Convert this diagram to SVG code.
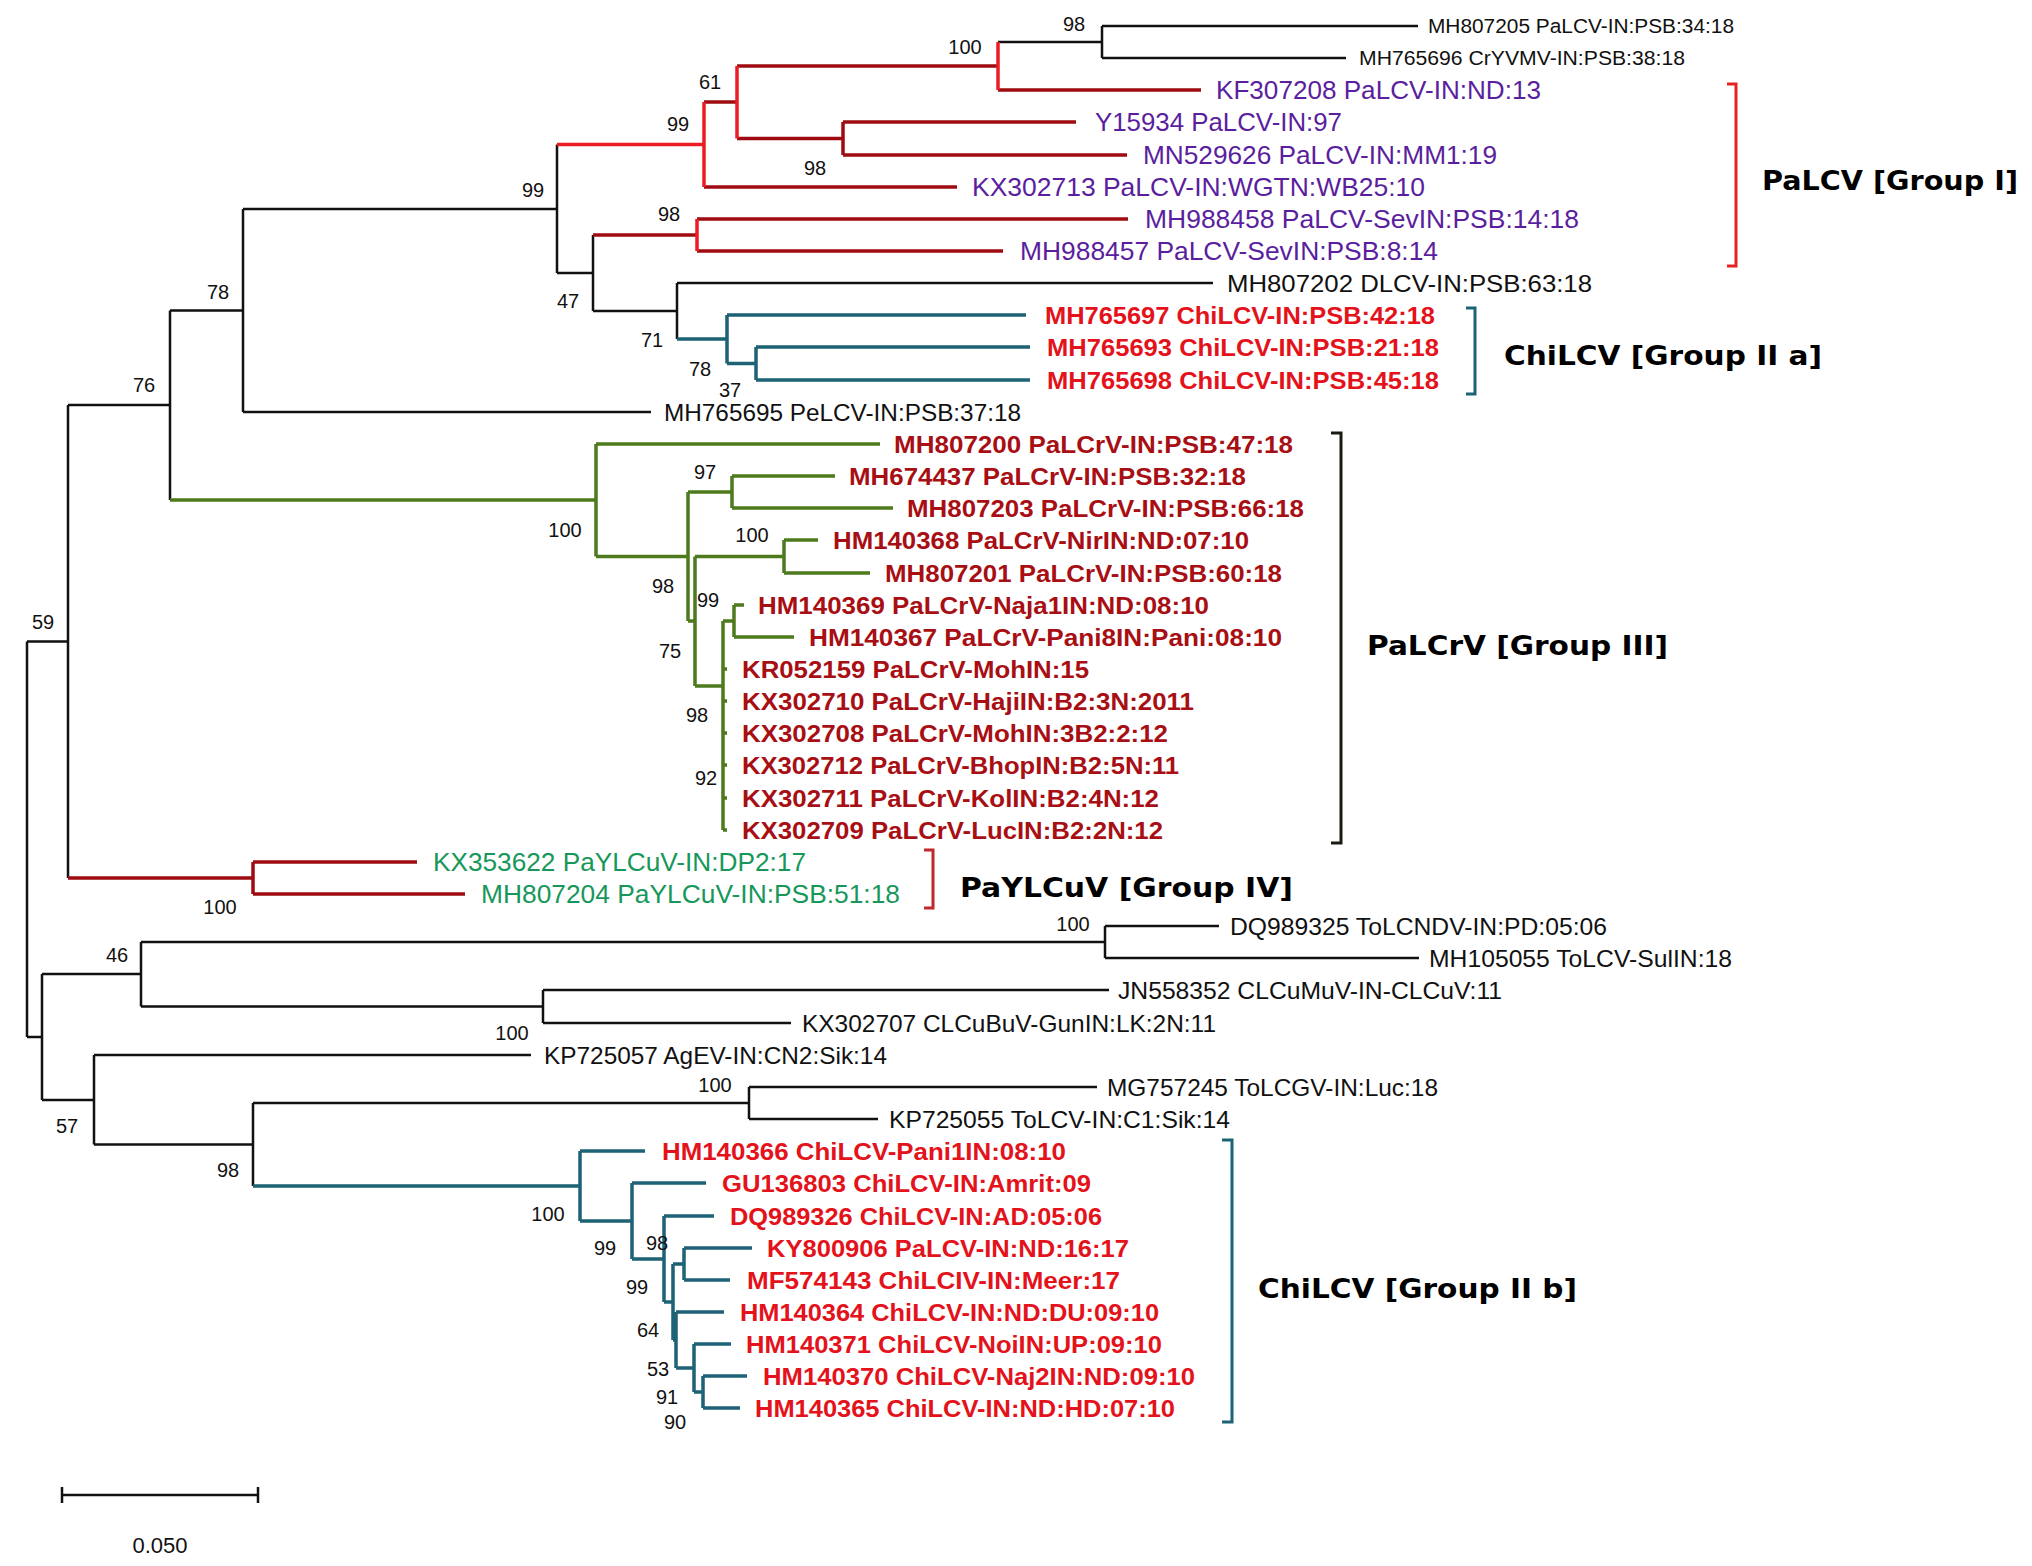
<svg xmlns="http://www.w3.org/2000/svg" width="2032" height="1566" viewBox="0 0 2032 1566">
<style>
.k{fill:none;stroke:#111;stroke-width:2.5}
.r{fill:none;stroke:#9e0b10;stroke-width:3.5}
.rb{fill:none;stroke:#ec1c24;stroke-width:3.5}
.t{fill:none;stroke:#1d6275;stroke-width:3.5}
.g{fill:none;stroke:#4e7a1e;stroke-width:3.5}
text{font-family:"Liberation Sans",Arial,sans-serif}
.bs{font-size:20px;fill:#111;text-anchor:middle}
.tk{font-size:24px;fill:#111}
.ts{font-size:20.5px;fill:#111}
.tp{font-size:25px;fill:#5a1e9e}
.tr{font-size:24px;fill:#e3121b;font-weight:bold}
.td{font-size:24px;fill:#a80f14;font-weight:bold}
.tg{font-size:25px;fill:#17985a}
.grp{font-family:"DejaVu Sans",Verdana,sans-serif;font-size:27px;font-weight:bold;fill:#000}
.bk{fill:none;stroke-width:3}
</style>
<rect width="2032" height="1566" fill="#fff"/>
<g id="branches">
<path class="k" d="M27,641.5V1037M27,641.5H68M27,1037H42M68,405V878M68,405H170M170,310.5V500M170,310.5H243M243,209V412M243,209H557M243,412H651M557,144.5V273M557,273H593M593,235V311M593,311H677M677,283V339M677,283H1213M998,42H1102M1102,26V58M1102,26H1418M1102,58H1346"/>
<path class="k" d="M42,974V1100M42,974H141M141,942V1006.5M141,942H1105M1105,926V958M1105,926H1219M1105,958H1419M141,1006.5H543M543,990V1023M543,990H1109M543,1023H791M42,1100H94M94,1055V1144.5M94,1055H531M94,1144.5H253M253,1103V1186M253,1103H749M749,1087V1119M749,1087H1097M749,1119H878"/>
<path class="r" d="M704,102H737M704,187H957M737,66H998M998,90H1201M737,138.5H843M843,122V155M843,122H1076M843,155H1127M593,235H697M697,219H1128M697,251H1003"/>
<path class="rb" d="M557,144.5H704M704,102V187M737,66V138.5M998,42V90M697,219V251"/>
<path class="r" d="M68,878H253M253,862V894M253,862H417M253,894H465"/>
<path class="t" d="M677,339H727M727,315V363.5M727,315H1026M727,363.5H756M756,347V380M756,347H1030M756,380H1030"/>
<path class="t" d="M253,1186H580M580,1151V1221M580,1151H645M580,1221H632M632,1183V1259M632,1183H706M632,1259H664M664,1216V1302M664,1216H714M664,1302H673M673,1264V1340M673,1264H684M684,1248V1280M684,1248H752M684,1280H730M673,1340H676M676,1312V1368M676,1312H724M676,1368H694M694,1344V1392M694,1344H731M694,1392H703M703,1376V1408M703,1376H747M703,1408H740"/>
<path class="g" d="M170,500H596M596,444V556.5M596,444H880M596,556.5H688M688,492V621M688,492H732M732,476V508M732,476H835M732,508H893M688,621H695M695,556.5V686M695,556.5H784M784,540V573M784,540H818M784,573H870M695,686H723M723,621V830M723,621H734M734,605V637M734,605H744M734,637H794M723,669H727M723,701H727M723,733H727M723,765H727M723,798H727M723,830H727"/>
</g>
<g id="brackets">
<path class="bk" stroke="#e52222" d="M1727,84H1736V266H1727"/>
<path class="bk" stroke="#1d6275" d="M1466,308H1475V394H1466"/>
<path class="bk" stroke="#1a1a12" d="M1331,433H1341V843H1331"/>
<path class="bk" stroke="#c0282c" d="M924,850H933V908H924"/>
<path class="bk" stroke="#1d6275" d="M1222,1140H1232V1422H1222"/>
</g>
<g id="bootstrap">
<text class="bs" x="1074" y="31">98</text>
<text class="bs" x="965" y="54">100</text>
<text class="bs" x="710" y="89">61</text>
<text class="bs" x="678" y="131">99</text>
<text class="bs" x="815" y="175">98</text>
<text class="bs" x="533" y="197">99</text>
<text class="bs" x="669" y="221">98</text>
<text class="bs" x="218" y="299">78</text>
<text class="bs" x="568" y="308">47</text>
<text class="bs" x="652" y="347">71</text>
<text class="bs" x="700" y="376">78</text>
<text class="bs" x="730" y="397" font-size="19">37</text>
<text class="bs" x="144" y="392">76</text>
<text class="bs" x="565" y="537">100</text>
<text class="bs" x="705" y="479">97</text>
<text class="bs" x="752" y="542">100</text>
<text class="bs" x="663" y="593">98</text>
<text class="bs" x="708" y="607">99</text>
<text class="bs" x="670" y="658">75</text>
<text class="bs" x="697" y="722">98</text>
<text class="bs" x="706" y="785">92</text>
<text class="bs" x="43" y="629">59</text>
<text class="bs" x="220" y="914">100</text>
<text class="bs" x="117" y="962">46</text>
<text class="bs" x="1073" y="931">100</text>
<text class="bs" x="512" y="1040">100</text>
<text class="bs" x="67" y="1133">57</text>
<text class="bs" x="715" y="1092">100</text>
<text class="bs" x="228" y="1177">98</text>
<text class="bs" x="548" y="1221">100</text>
<text class="bs" x="605" y="1255">99</text>
<text class="bs" x="657" y="1250">98</text>
<text class="bs" x="637" y="1294">99</text>
<text class="bs" x="648" y="1337">64</text>
<text class="bs" x="658" y="1376">53</text>
<text class="bs" x="667" y="1404">91</text>
<text class="bs" x="675" y="1429">90</text>
</g>
<g id="tip-MH807205"><text class="ts" x="1428" y="33" textLength="306" lengthAdjust="spacingAndGlyphs">MH807205 PaLCV-IN:PSB:34:18</text></g>
<g id="tip-MH765696"><text class="ts" x="1359" y="65" textLength="326" lengthAdjust="spacingAndGlyphs">MH765696 CrYVMV-IN:PSB:38:18</text></g>
<g id="tip-KF307208"><text class="tp" x="1216" y="99" textLength="325" lengthAdjust="spacingAndGlyphs">KF307208 PaLCV-IN:ND:13</text></g>
<g id="tip-Y15934"><text class="tp" x="1095" y="131" textLength="247" lengthAdjust="spacingAndGlyphs">Y15934 PaLCV-IN:97</text></g>
<g id="tip-MN529626"><text class="tp" x="1143" y="164" textLength="354" lengthAdjust="spacingAndGlyphs">MN529626 PaLCV-IN:MM1:19</text></g>
<g id="tip-KX302713"><text class="tp" x="972" y="196" textLength="453" lengthAdjust="spacingAndGlyphs">KX302713 PaLCV-IN:WGTN:WB25:10</text></g>
<g id="tip-MH988458"><text class="tp" x="1145" y="228" textLength="434" lengthAdjust="spacingAndGlyphs">MH988458 PaLCV-SevIN:PSB:14:18</text></g>
<g id="tip-MH988457"><text class="tp" x="1020" y="260" textLength="418" lengthAdjust="spacingAndGlyphs">MH988457 PaLCV-SevIN:PSB:8:14</text></g>
<g id="tip-MH807202"><text class="tk" x="1227" y="292" textLength="365" lengthAdjust="spacingAndGlyphs">MH807202 DLCV-IN:PSB:63:18</text></g>
<g id="tip-MH765697"><text class="tr" x="1045" y="324" textLength="390" lengthAdjust="spacingAndGlyphs">MH765697 ChiLCV-IN:PSB:42:18</text></g>
<g id="tip-MH765693"><text class="tr" x="1047" y="356" textLength="392" lengthAdjust="spacingAndGlyphs">MH765693 ChiLCV-IN:PSB:21:18</text></g>
<g id="tip-MH765698"><text class="tr" x="1047" y="389" textLength="392" lengthAdjust="spacingAndGlyphs">MH765698 ChiLCV-IN:PSB:45:18</text></g>
<g id="tip-MH765695"><text class="tk" x="664" y="421" textLength="357" lengthAdjust="spacingAndGlyphs">MH765695 PeLCV-IN:PSB:37:18</text></g>
<g id="tip-MH807200"><text class="td" x="894" y="453" textLength="399" lengthAdjust="spacingAndGlyphs">MH807200 PaLCrV-IN:PSB:47:18</text></g>
<g id="tip-MH674437"><text class="td" x="849" y="485" textLength="397" lengthAdjust="spacingAndGlyphs">MH674437 PaLCrV-IN:PSB:32:18</text></g>
<g id="tip-MH807203"><text class="td" x="907" y="517" textLength="397" lengthAdjust="spacingAndGlyphs">MH807203 PaLCrV-IN:PSB:66:18</text></g>
<g id="tip-HM140368"><text class="td" x="833" y="549" textLength="416" lengthAdjust="spacingAndGlyphs">HM140368 PaLCrV-NirIN:ND:07:10</text></g>
<g id="tip-MH807201"><text class="td" x="885" y="582" textLength="397" lengthAdjust="spacingAndGlyphs">MH807201 PaLCrV-IN:PSB:60:18</text></g>
<g id="tip-HM140369"><text class="td" x="758" y="614" textLength="451" lengthAdjust="spacingAndGlyphs">HM140369 PaLCrV-Naja1IN:ND:08:10</text></g>
<g id="tip-HM140367"><text class="td" x="809" y="646" textLength="473" lengthAdjust="spacingAndGlyphs">HM140367 PaLCrV-Pani8IN:Pani:08:10</text></g>
<g id="tip-KR052159"><text class="td" x="742" y="678" textLength="347" lengthAdjust="spacingAndGlyphs">KR052159 PaLCrV-MohIN:15</text></g>
<g id="tip-KX302710"><text class="td" x="742" y="710" textLength="452" lengthAdjust="spacingAndGlyphs">KX302710 PaLCrV-HajiIN:B2:3N:2011</text></g>
<g id="tip-KX302708"><text class="td" x="742" y="742" textLength="426" lengthAdjust="spacingAndGlyphs">KX302708 PaLCrV-MohIN:3B2:2:12</text></g>
<g id="tip-KX302712"><text class="td" x="742" y="774" textLength="437" lengthAdjust="spacingAndGlyphs">KX302712 PaLCrV-BhopIN:B2:5N:11</text></g>
<g id="tip-KX302711"><text class="td" x="742" y="807" textLength="417" lengthAdjust="spacingAndGlyphs">KX302711 PaLCrV-KolIN:B2:4N:12</text></g>
<g id="tip-KX302709"><text class="td" x="742" y="839" textLength="421" lengthAdjust="spacingAndGlyphs">KX302709 PaLCrV-LucIN:B2:2N:12</text></g>
<g id="tip-KX353622"><text class="tg" x="433" y="871" textLength="373" lengthAdjust="spacingAndGlyphs">KX353622 PaYLCuV-IN:DP2:17</text></g>
<g id="tip-MH807204"><text class="tg" x="481" y="903" textLength="419" lengthAdjust="spacingAndGlyphs">MH807204 PaYLCuV-IN:PSB:51:18</text></g>
<g id="tip-DQ989325"><text class="tk" x="1230" y="935" textLength="377" lengthAdjust="spacingAndGlyphs">DQ989325 ToLCNDV-IN:PD:05:06</text></g>
<g id="tip-MH105055"><text class="tk" x="1429" y="967" textLength="303" lengthAdjust="spacingAndGlyphs">MH105055 ToLCV-SulIN:18</text></g>
<g id="tip-JN558352"><text class="tk" x="1118" y="999" textLength="384" lengthAdjust="spacingAndGlyphs">JN558352 CLCuMuV-IN-CLCuV:11</text></g>
<g id="tip-KX302707"><text class="tk" x="802" y="1032" textLength="414" lengthAdjust="spacingAndGlyphs">KX302707 CLCuBuV-GunIN:LK:2N:11</text></g>
<g id="tip-KP725057"><text class="tk" x="544" y="1064" textLength="343" lengthAdjust="spacingAndGlyphs">KP725057 AgEV-IN:CN2:Sik:14</text></g>
<g id="tip-MG757245"><text class="tk" x="1107" y="1096" textLength="331" lengthAdjust="spacingAndGlyphs">MG757245 ToLCGV-IN:Luc:18</text></g>
<g id="tip-KP725055"><text class="tk" x="889" y="1128" textLength="341" lengthAdjust="spacingAndGlyphs">KP725055 ToLCV-IN:C1:Sik:14</text></g>
<g id="tip-HM140366"><text class="tr" x="662" y="1160" textLength="404" lengthAdjust="spacingAndGlyphs">HM140366 ChiLCV-Pani1IN:08:10</text></g>
<g id="tip-GU136803"><text class="tr" x="722" y="1192" textLength="369" lengthAdjust="spacingAndGlyphs">GU136803 ChiLCV-IN:Amrit:09</text></g>
<g id="tip-DQ989326"><text class="tr" x="730" y="1225" textLength="372" lengthAdjust="spacingAndGlyphs">DQ989326 ChiLCV-IN:AD:05:06</text></g>
<g id="tip-KY800906"><text class="tr" x="767" y="1257" textLength="362" lengthAdjust="spacingAndGlyphs">KY800906 PaLCV-IN:ND:16:17</text></g>
<g id="tip-MF574143"><text class="tr" x="747" y="1289" textLength="373" lengthAdjust="spacingAndGlyphs">MF574143 ChiLCIV-IN:Meer:17</text></g>
<g id="tip-HM140364"><text class="tr" x="740" y="1321" textLength="419" lengthAdjust="spacingAndGlyphs">HM140364 ChiLCV-IN:ND:DU:09:10</text></g>
<g id="tip-HM140371"><text class="tr" x="746" y="1353" textLength="416" lengthAdjust="spacingAndGlyphs">HM140371 ChiLCV-NoiIN:UP:09:10</text></g>
<g id="tip-HM140370"><text class="tr" x="763" y="1385" textLength="432" lengthAdjust="spacingAndGlyphs">HM140370 ChiLCV-Naj2IN:ND:09:10</text></g>
<g id="tip-HM140365"><text class="tr" x="755" y="1417" textLength="420" lengthAdjust="spacingAndGlyphs">HM140365 ChiLCV-IN:ND:HD:07:10</text></g>
<g id="group-I"><text class="grp" x="1762" y="190" textLength="256" lengthAdjust="spacingAndGlyphs">PaLCV [Group I]</text></g>
<g id="group-IIa"><text class="grp" x="1504" y="365" textLength="318" lengthAdjust="spacingAndGlyphs">ChiLCV [Group II a]</text></g>
<g id="group-III"><text class="grp" x="1367" y="655" textLength="301" lengthAdjust="spacingAndGlyphs">PaLCrV [Group III]</text></g>
<g id="group-IV"><text class="grp" x="960" y="897" textLength="333" lengthAdjust="spacingAndGlyphs">PaYLCuV [Group IV]</text></g>
<g id="group-IIb"><text class="grp" x="1258" y="1298" textLength="319" lengthAdjust="spacingAndGlyphs">ChiLCV [Group II b]</text></g>
<g id="scale-bar">
<path class="k" d="M62,1495H258M62,1487V1503M258,1487V1503"/>
<text x="160" y="1553" font-size="22" fill="#111" text-anchor="middle">0.050</text>
</g>
</svg>
